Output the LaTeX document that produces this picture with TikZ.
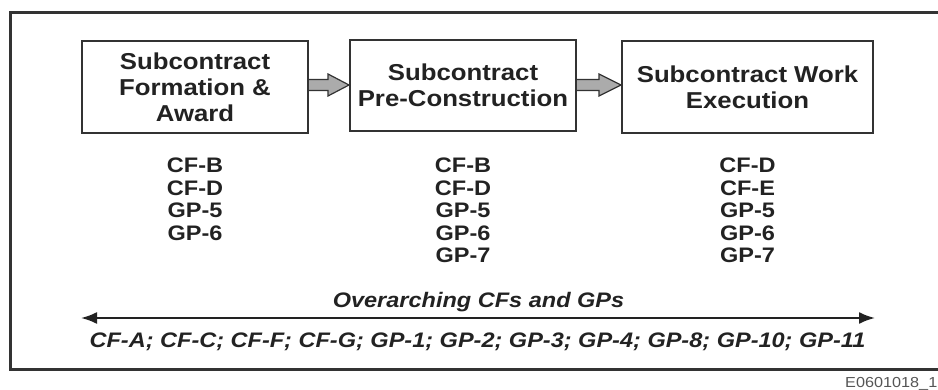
\documentclass[tikz,border=0pt]{standalone}
\usepackage{fontspec}
\setmainfont{Liberation Sans}[FakeStretch=1.12]
\usetikzlibrary{arrows.meta,calc}
\definecolor{ink}{HTML}{222222}
\definecolor{frameink}{HTML}{333333}
\definecolor{arrowfill}{HTML}{ABABAB}
\definecolor{idgray}{HTML}{555555}
\tikzset{
  phasebox/.style={draw=frameink, line width=2pt, inner sep=0pt, align=center,
    text=ink, font=\bfseries\fontsize{23}{26}\selectfont},
  collist/.style={inner sep=0pt, anchor=north, align=center, text=ink,
    font=\bfseries\fontsize{21}{22.5}\selectfont},
  italline/.style={inner sep=0pt, anchor=base, text=ink,
    font=\bfseries\itshape\fontsize{21}{24}\selectfont},
  blockarrow/.style={draw=frameink, line width=1.2pt, fill=arrowfill, line join=miter},
  spanarrow/.style={draw=ink, line width=2pt, {Latex[length=16pt,width=12pt]}-{Latex[length=16pt,width=12pt]}},
  outerframe/.style={draw=frameink, line width=3pt}
}
\begin{document}
\begin{tikzpicture}[x=1pt,y=-1pt]
\useasboundingbox (0,0) rectangle (938,390);
% outer frame (right side runs off the picture)
\draw[outerframe] (940,13) -- (10,13) -- (10,369) -- (940,369);

% phase boxes
\node[phasebox, minimum width=226pt, minimum height=92pt] (b1) at (195,87)
  {Subcontract\\Formation \&\\Award};
\node[phasebox, minimum width=226pt, minimum height=91pt] (b2) at (463,85.5)
  {Subcontract\\Pre-Construction};
\node[phasebox, minimum width=251pt, minimum height=92pt] (b3) at (747.5,87)
  {Subcontract Work\\Execution};

% block arrows
\coordinate (t1) at (b2.west |- 0,85);
\coordinate (s1) at (b1.east |- 0,85);
\draw[blockarrow] ($(s1)+(0,-5.5)$) -- ($(t1)+(-21,-5.5)$) -- ($(t1)+(-21,-11)$)
  -- (t1) -- ($(t1)+(-21,11)$) -- ($(t1)+(-21,5.5)$) -- ($(s1)+(0,5.5)$);
\coordinate (t2) at (b3.west |- 0,85);
\coordinate (s2) at (b2.east |- 0,85);
\draw[blockarrow] ($(s2)+(0,-5.5)$) -- ($(t2)+(-22,-5.5)$) -- ($(t2)+(-22,-11)$)
  -- (t2) -- ($(t2)+(-22,11)$) -- ($(t2)+(-22,5.5)$) -- ($(s2)+(0,5.5)$);

% lists under the boxes
\node[collist] (c1) at (195,158) {CF-B\\CF-D\\GP-5\\GP-6};
\node[collist] (c2) at (463,158) {CF-B\\CF-D\\GP-5\\GP-6\\GP-7};
\node[collist] (c3) at (747.5,158) {CF-D\\CF-E\\GP-5\\GP-6\\GP-7};

% overarching
\node[italline] (ov) at (478.5,308) {Overarching CFs and GPs};
\coordinate (aL) at (81,318);
\coordinate (aR) at (875,318);
\draw[spanarrow] (aL) -- (aR);
\node[italline] (all) at (477.5,348)
  {CF-A; CF-C; CF-F; CF-G; GP-1; GP-2; GP-3; GP-4; GP-8; GP-10; GP-11};

% figure id
\node[inner sep=0pt, anchor=base west, text=idgray, font=\fontsize{14.5}{16}\selectfont]
  (fid) at (845,388) {E0601018\_1};
\end{tikzpicture}
\end{document}
